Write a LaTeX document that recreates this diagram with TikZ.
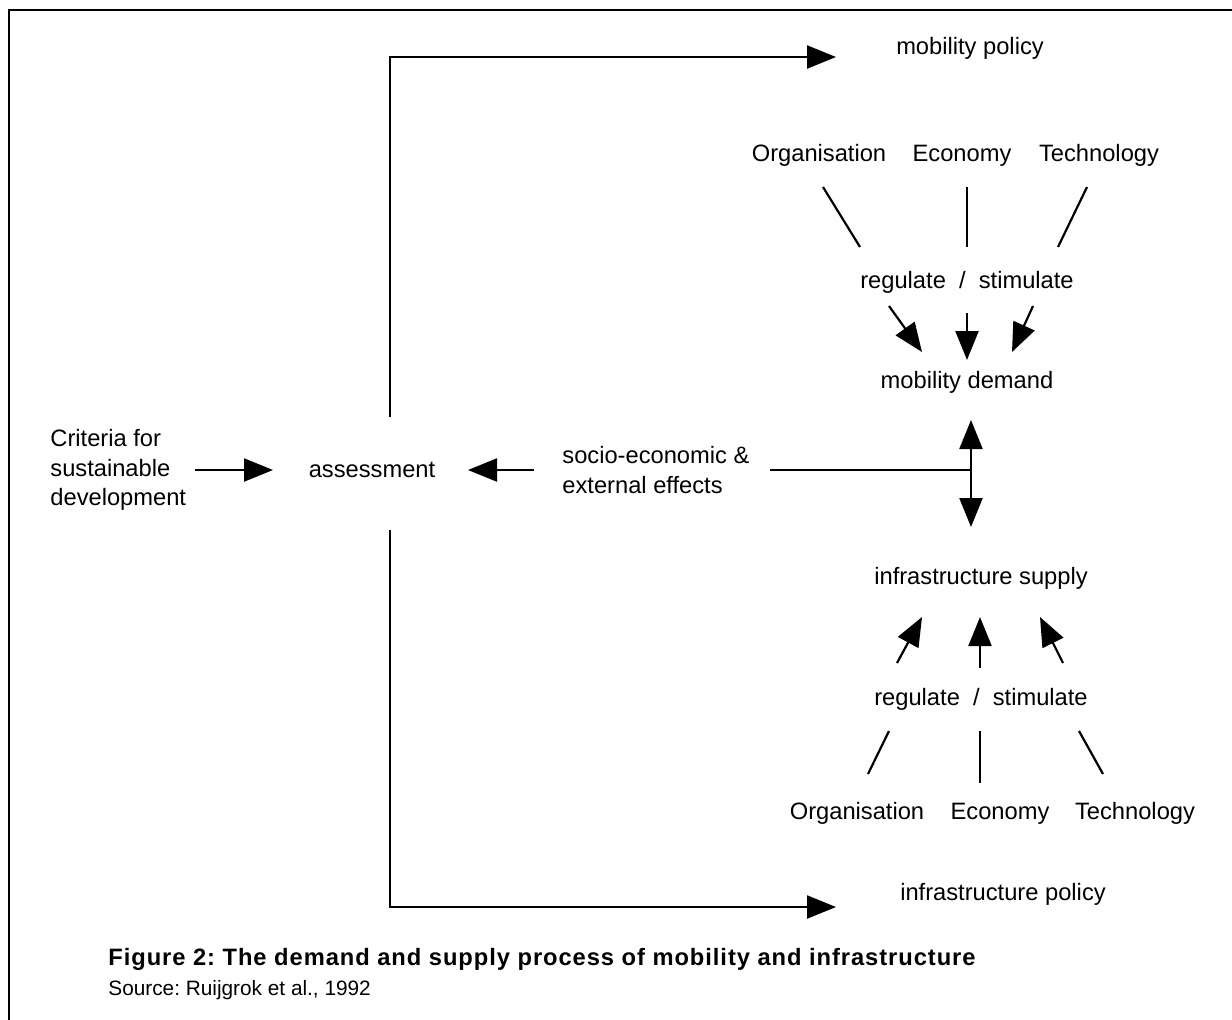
\documentclass[tikz,border=0pt]{standalone}
\usepackage{fontspec}
\setmainfont{Liberation Sans}
\newfontfamily\capfont[LetterSpace=4]{Liberation Sans}
\usetikzlibrary{arrows.meta}
\frenchspacing
\begin{document}
\begin{tikzpicture}[x=0.5pt,y=-0.5pt,
  lbl/.style={font=\fontsize{11.85pt}{14.6pt}\selectfont, inner sep=0pt, text height=8.5pt, text depth=2.5pt},
  mlbl/.style={font=\fontsize{11.85pt}{14.6pt}\selectfont, inner sep=0pt, align=left, anchor=west},
  conn/.style={line width=1.1pt},
  tipx/.tip={Triangle[length=14.5pt,width=11.5pt]},
  arr/.style={conn, -tipx},
]
\useasboundingbox (0,0) rectangle (1232,1019);
% frame
\draw[line width=1.2pt] (9,1025) -- (9,10) -- (1240,10);

% nodes
\node[lbl] (mpol) at (970,48) {mobility policy};
\node[lbl] (ipol) at (1003,894) {infrastructure policy};
\node[lbl] (org1) at (819,155) {Organisation};
\node[lbl] (eco1) at (962,155) {Economy};
\node[lbl] (tec1) at (1099,155) {Technology};
\node[lbl] (rs1) at (967,282) {regulate \ / \ stimulate};
\node[lbl] (mdem) at (967,382) {mobility demand};
\node[mlbl] (socio) at (562,470) {socio-economic \&\\external effects};
\node[lbl] (assess) at (372,471) {assessment};
\node[mlbl] (crit) at (50,470) {Criteria for\\sustainable\\development};
\node[lbl] (isup) at (981,578) {infrastructure supply};
\node[lbl] (rs2) at (981,699) {regulate \ / \ stimulate};
\node[lbl] (org2) at (857,813) {Organisation};
\node[lbl] (eco2) at (1000,813) {Economy};
\node[lbl] (tec2) at (1135,813) {Technology};

\node[anchor=west, inner sep=0pt, font=\fontsize{11.85pt}{14pt}\selectfont\capfont\bfseries] (cap) at (108,959)
  {Figure 2: The demand and supply process of mobility and infrastructure};
\node[anchor=west, inner sep=0pt, font=\fontsize{10.4pt}{12.5pt}\selectfont] (src) at (108,990)
  {Source: Ruijgrok et al., 1992};

% coordinates
\coordinate (ctop) at (390,57);
\coordinate (ctopend) at (836,57);
\coordinate (cup) at (390,417);
\coordinate (cdown) at (390,530);
\coordinate (cbot) at (390,907);
\coordinate (cbotend) at (836,907);
\coordinate (critE) at (195,470);
\coordinate (assW) at (273,470);
\coordinate (socE) at (534,470);
\coordinate (assE) at (468,470);
\coordinate (hstart) at (770,470);
\coordinate (vmid) at (971,470);
\coordinate (vtop) at (971,420);
\coordinate (vbot) at (971,527);

% policy lines
\draw[arr] (cup) -- (ctop) -- (ctopend);
\draw[arr] (cdown) -- (cbot) -- (cbotend);
\draw[arr] (critE) -- (assW);
\draw[arr] (socE) -- (assE);
\draw[conn] (hstart) -- (vmid);
\draw[conn, tipx-tipx] (vtop) -- (vbot);

% upper fan
\draw[conn] (823,187) -- (860,247);
\draw[conn] (967,187) -- (967,247);
\draw[conn] (1087,187) -- (1058,247);
\draw[arr] (889,306) -- (922,352);
\draw[arr] (967,313) -- (967,360);
\draw[arr] (1033,306) -- (1012,352);

% lower fan
\draw[arr] (897,663) -- (922,617);
\draw[arr] (980,668) -- (980,617);
\draw[arr] (1063,663) -- (1040,617);
\draw[conn] (889,731) -- (868,774);
\draw[conn] (980,731) -- (980,783);
\draw[conn] (1079,731) -- (1103,774);
\end{tikzpicture}
\end{document}
